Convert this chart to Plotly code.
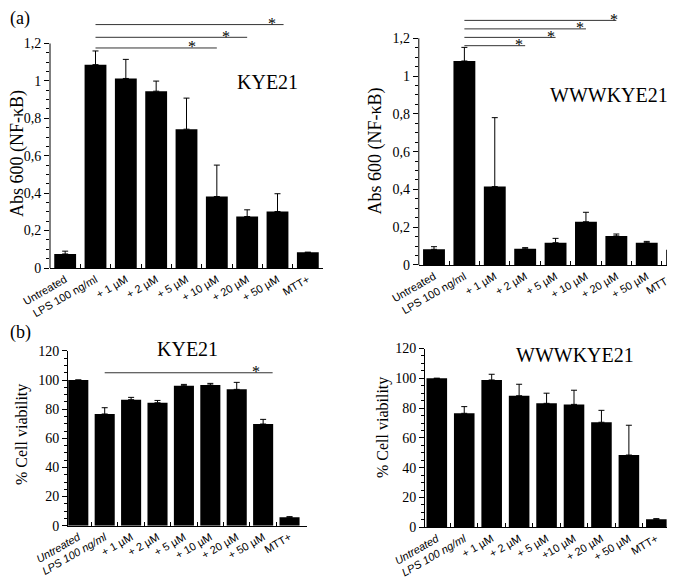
import plotly.graph_objects as go

# ---------------- data ----------------
categories = ["Untreated", "LPS 100 ng/ml", "+ 1 µM", "+ 2 µM", "+ 5 µM",
              "+ 10 µM", "+ 20 µM", "+ 50 µM", "MTT+"]
categories_b_left = ["<i>Untreated</i>", "<i>LPS 100 ng/ml</i>", "+ 1 µM", "+ 2 µM",
                     "+ 5 µM", "+ 10 µM", "+ 20 µM", "+ 50 µM", "MTT+"]
categories_b_right = ["<i>Untreated</i>", "<i>LPS 100 ng/ml</i>", "+ 1 µM", "+ 2 µM",
                      "+ 5 µM", "+10 µM", "+ 20 µM", "+ 50 µM", "MTT+"]

# (a) NF-kB activity (Abs 600)
nfkb_kye21 = [0.075, 1.087, 1.013, 0.945, 0.742, 0.382, 0.275, 0.302, 0.084]
nfkb_kye21_sd = [0.015, 0.073, 0.102, 0.054, 0.166, 0.168, 0.036, 0.095, 0.0]
nfkb_wwwkye21 = [0.083, 1.080, 0.415, 0.086, 0.118, 0.229, 0.154, 0.118, 0.081]
nfkb_wwwkye21_sd = [0.014, 0.072, 0.365, 0.006, 0.023, 0.050, 0.010, 0.007, 0.0]

# (b) % cell viability
viab_kye21 = [100, 76.7, 86.5, 84.4, 96.1, 96.6, 93.6, 69.8, 5.8]
viab_kye21_sd = [0, 4.3, 1.6, 1.6, 0.9, 1.1, 4.8, 3.2, 0.4]
viab_wwwkye21 = [100, 76.5, 98.9, 88.3, 83.2, 82.5, 70.5, 48.5, 5.4]
viab_wwwkye21_sd = [0, 4.5, 3.8, 7.7, 6.8, 9.5, 8.0, 20.0, 0.4]

# significance brackets: start category, end category, level, star position
sig_a_kye21_start = [1, 1, 1]
sig_a_kye21_end = [7.2, 6, 5]
sig_a_kye21_level = [1.301, 1.233, 1.176]
sig_a_kye21_star = [6.82, 5.31, 4.17]

sig_a_www_start = [1, 1, 1, 1]
sig_a_www_end = [6, 5, 4, 3]
sig_a_www_level = [1.295, 1.250, 1.205, 1.161]
sig_a_www_star = [5.92, 4.80, 3.84, 2.80]

sig_b_kye21_start = [1]
sig_b_kye21_end = [7.36]
sig_b_kye21_level = [105]
sig_b_kye21_star = [6.73]

a_ticks = [0, 0.2, 0.4, 0.6, 0.8, 1.0, 1.2]
a_ticktext = ["0", "0,2", "0,4", "0,6", "0,8", "1", "1,2"]
b_ticks = [0, 20, 40, 60, 80, 100, 120]

# ---------------- layout helpers ----------------
SERIF = "Liberation Serif, Times New Roman, serif"
SANS = "Liberation Sans, Arial, sans-serif"
OFF = 8            # default page margin of the html body
W, H = 675 - OFF, 578 - OFF

def px(x):
    return (x - OFF) / W

def py(y):
    return 1 - (y - OFF) / H

fig = go.Figure()
idx = list(range(len(categories)))

def add_bars(vals, sd, xa, ya, width):
    fig.add_trace(go.Bar(
        x=idx, y=vals, xaxis=xa, yaxis=ya, width=width,
        marker=dict(color="black", line=dict(width=0)),
        error_y=dict(type="data", array=sd, arrayminus=[0] * len(sd), symmetric=False,
                     color="black", thickness=1, width=3),
        showlegend=False, hoverinfo="skip"))

add_bars(nfkb_kye21, nfkb_kye21_sd, "x", "y", 0.72)
add_bars(nfkb_wwwkye21, nfkb_wwwkye21_sd, "x2", "y2", 0.72)
add_bars(viab_kye21, viab_kye21_sd, "x3", "y3", 0.76)
add_bars(viab_wwwkye21, viab_wwwkye21_sd, "x4", "y4", 0.75)

def xaxis_cfg(x0, x1, rng, labels, anchor):
    return dict(domain=[px(x0), min(px(x1), 1.0)], range=rng, anchor=anchor,
                tickmode="array", tickvals=idx, ticktext=labels, tickangle=-30,
                ticks="", automargin=False,
                tickfont=dict(family=SANS, size=11, color="black"),
                showline=True, linecolor="black", linewidth=1, showgrid=False,
                zeroline=False,
                minor=dict(tickmode="array", tickvals=[i + 0.5 for i in idx[:-1]],
                           ticks="inside", ticklen=4, tickcolor="black", tickwidth=1))

a_minor = [round(v * 0.05, 2) for v in range(0, 25) if v % 4 != 0]
b_minor = [v for v in range(0, 121, 5) if v % 20 != 0]

def yaxis_a(y_bottom, y_top, rng, anchor):
    return dict(domain=[py(y_bottom), py(y_top)], range=rng, anchor=anchor,
                tickmode="array", tickvals=a_ticks, ticktext=a_ticktext,
                ticks="outside", ticklen=5, automargin=False,
                tickcolor="black", tickfont=dict(family=SERIF, size=14, color="black"),
                showline=False, showgrid=False, zeroline=False,
                minor=dict(tickmode="array", tickvals=a_minor, ticks="outside",
                           ticklen=3, tickcolor="black"))

def yaxis_b(y_bottom, y_top, anchor):
    return dict(domain=[py(y_bottom), py(y_top)], range=[0, 120], anchor=anchor,
                tickmode="array", tickvals=b_ticks, ticks="outside", ticklen=5,
                tickcolor="black", automargin=False,
                tickfont=dict(family=SERIF, size=14, color="black"),
                showline=True, linecolor="black", linewidth=1,
                showgrid=False, zeroline=False,
                minor=dict(tickmode="array", tickvals=b_minor, ticks="outside",
                           ticklen=3, tickcolor="black"))

fig.update_layout(
    template="none",
    width=W, height=H, margin=dict(l=0, r=0, t=0, b=0, pad=0, autoexpand=False),
    paper_bgcolor="white", plot_bgcolor="white", showlegend=False,
    xaxis=xaxis_cfg(50, 323, [-0.5, 8.5], categories, "y"),
    yaxis=yaxis_a(268, 268 - 1.35 * 187.1, [0, 1.35], "x"),
    xaxis2=xaxis_cfg(418.8, 675, [-0.5, 7.93], categories, "y2"),
    yaxis2=yaxis_a(265, 265 - 1.36 * 188.9, [0, 1.36], "x2"),
    xaxis3=xaxis_cfg(68, 306.7, [-0.39, 8.65], categories_b_left, "y3"),
    yaxis3=yaxis_b(525.7, 350.9, "x3"),
    xaxis4=xaxis_cfg(425, 671.7, [-0.43, 8.56], categories_b_right, "y4"),
    yaxis4=yaxis_b(527.3, 348.5, "x4"),
)

shapes = []
annotations = []

# y-axis lines of panel (a) only span 0..1.2
for xa, ya in [("x", "y"), ("x2", "y2")]:
    shapes.append(dict(type="line", xref=f"{xa} domain", yref=ya, x0=0, x1=0,
                       y0=0, y1=a_ticks[-1], line=dict(color="black", width=1)))

def add_sig(starts, ends, levels, stars, xa, ya):
    for s, e, lv, st in zip(starts, ends, levels, stars):
        shapes.append(dict(type="line", xref=xa, yref=ya, x0=s, x1=e, y0=lv, y1=lv,
                           line=dict(color="#333333", width=1)))
        annotations.append(dict(text="*", xref=xa, yref=ya, x=st, y=lv,
                                xanchor="center", yanchor="middle", yshift=1,
                                showarrow=False,
                                font=dict(family=SERIF, size=16, color="black")))

add_sig(sig_a_kye21_start, sig_a_kye21_end, sig_a_kye21_level, sig_a_kye21_star, "x", "y")
add_sig(sig_a_www_start, sig_a_www_end, sig_a_www_level, sig_a_www_star, "x2", "y2")
add_sig(sig_b_kye21_start, sig_b_kye21_end, sig_b_kye21_level, sig_b_kye21_star, "x3", "y3")

# MTT+ label of the right top panel, cut off by the page edge
annotations.append(dict(text=categories[-1], xref="paper", yref="y2", x=px(678), y=0,
                        xanchor="right", yanchor="top", yshift=-4, textangle=-30,
                        showarrow=False, font=dict(family=SANS, size=11, color="black")))

def txt(text, x, y, size, angle=0, xanchor="center"):
    annotations.append(dict(text=text, xref="paper", yref="paper", x=px(x), y=py(y),
                            xanchor=xanchor, yanchor="middle", textangle=angle,
                            showarrow=False,
                            font=dict(family=SERIF, size=size, color="black")))

txt("(a)", 8, 18, 18, xanchor="left")
txt("(b)", 8, 332.7, 18, xanchor="left")
txt("KYE21", 267.5, 81.7, 20)
txt("WWWKYE21", 609, 95, 20)
txt("KYE21", 187.5, 349.3, 20)
txt("WWWKYE21", 575, 355, 20)
txt("Abs 600 (NF-κB)", 17, 154, 18, angle=-90)
txt("Abs 600 (NF-κB)", 375, 151.5, 18, angle=-90)
txt("% Cell viability", 22, 435, 16, angle=-90)
txt("% Cell viability", 383, 428, 16, angle=-90)

fig.update_layout(shapes=shapes, annotations=annotations)
fig.write_html("out.html")
